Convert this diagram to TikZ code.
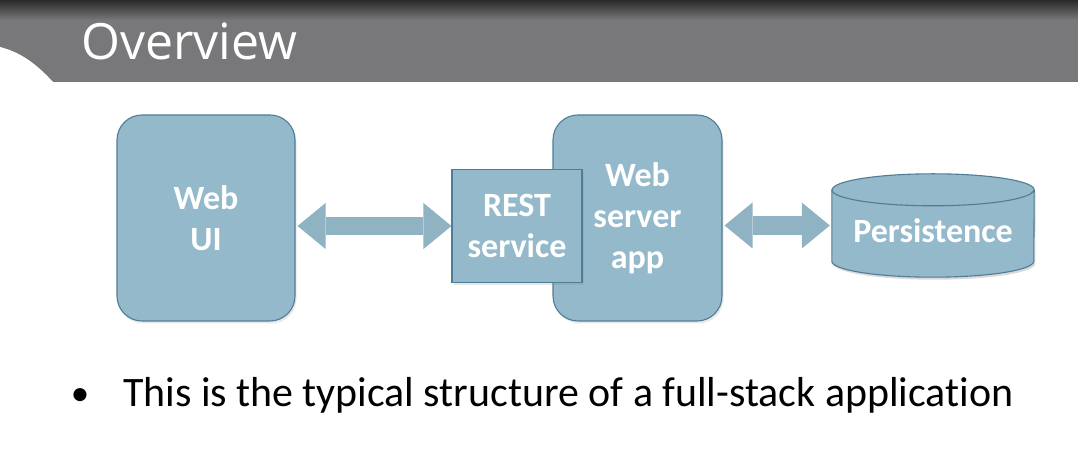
\documentclass[tikz,border=0pt]{standalone}
\usepackage{fontspec}
\setmainfont[Ligatures=NoCommon]{Carlito}
\newfontfamily\titlefont{Open Sans}
\usetikzlibrary{arrows.meta,shadows,calc}
\definecolor{boxfill}{HTML}{93B9CA}
\definecolor{boxline}{HTML}{507D96}
\definecolor{arrowfill}{HTML}{8FB3C3}
\definecolor{bandgray}{HTML}{78787B}
\definecolor{banddark}{HTML}{2A2A2A}
\tikzset{
  x=1pt, y=1pt,
  boxbase/.style={fill=boxfill, draw=boxline, line width=1.1pt, text=white,
    font=\fontsize{34}{41}\selectfont\bfseries, align=center, inner sep=0pt,
    drop shadow={opacity=0.18, shadow xshift=1.5pt, shadow yshift=-2.5pt}},
  roundbox/.style={boxbase, rounded corners=25pt},
  squarebox/.style={boxbase},
  fatarrow/.style={draw=arrowfill, line width=#1,
    {Triangle[width=46pt, length=28pt, line width=0pt]}-{Triangle[width=46pt, length=28pt, line width=0pt]}},
}
\begin{document}
\begin{tikzpicture}
\useasboundingbox (0,0) rectangle (1078,454);
\fill[white] (0,0) rectangle (1078,454);
% header band
\fill[bandgray] (0,372) rectangle (1078,436);
\shade[top color=banddark, bottom color=bandgray] (0,434) rectangle (1078,454);
\fill[white] (0,407) .. controls (24,401) and (40,386) .. (53,372) -- (0,372) -- cycle;
\node[anchor=base west, text=white, inner sep=0pt, font=\titlefont\fontsize{50}{56}\selectfont] (title) at (81,394) {Overview};

% nodes
\node[roundbox, minimum width=178pt, minimum height=206pt] (ui) at (206,236) {Web\\UI};
\node[roundbox, minimum width=169pt, minimum height=206pt] (app) at (637.5,236) {Web\\server\\app};
\node[squarebox, minimum width=130pt, minimum height=113pt] (rest) at (517,228) {REST\\service};

% persistence cylinder
\node[minimum width=202pt, minimum height=103pt, inner sep=0pt] (db) at (933,228.5) {};
\fill[black, opacity=0.15] ($(db.north west)+(1.5,-18.5)$) -- ($(db.south west)+(1.5,13.5)$)
  arc[start angle=180, end angle=360, x radius=101pt, y radius=16pt] -- ($(db.north east)+(1.5,-18.5)$) -- cycle;
\filldraw[fill=boxfill, draw=boxline, line width=1.1pt]
  ($(db.north west)+(0,-16)$) -- ($(db.south west)+(0,16)$)
  arc[start angle=180, end angle=360, x radius=101pt, y radius=16pt]
  -- ($(db.north east)+(0,-16)$)
  arc[start angle=0, end angle=180, x radius=101pt, y radius=16pt] -- cycle;
\draw[boxline, line width=1.1pt] ($(db.north west)+(0,-16)$)
  arc[start angle=180, end angle=360, x radius=101pt, y radius=16pt];
\node[text=white, font=\fontsize{34}{41}\selectfont\bfseries, inner sep=0pt] (dbtext) at ($(db.center)+(0,-5)$) {Persistence};

% connectors
\draw[fatarrow=18pt, shorten <=2pt] (ui.east |- rest.west) -- (rest.west);
\draw[fatarrow=19pt, shorten <=2pt, shorten >=2pt] (app.east |- db.west) -- (db.west);

% bullet text
\node[anchor=base, inner sep=0pt, font=\fontsize{37}{44}\selectfont] (bul) at (80,48) {•};
\node[anchor=base west, inner sep=0pt, font=\fontsize{41.9}{48}\selectfont] (line) at (123,47) {This is the typical structure of a full-stack application};
\end{tikzpicture}
\end{document}
